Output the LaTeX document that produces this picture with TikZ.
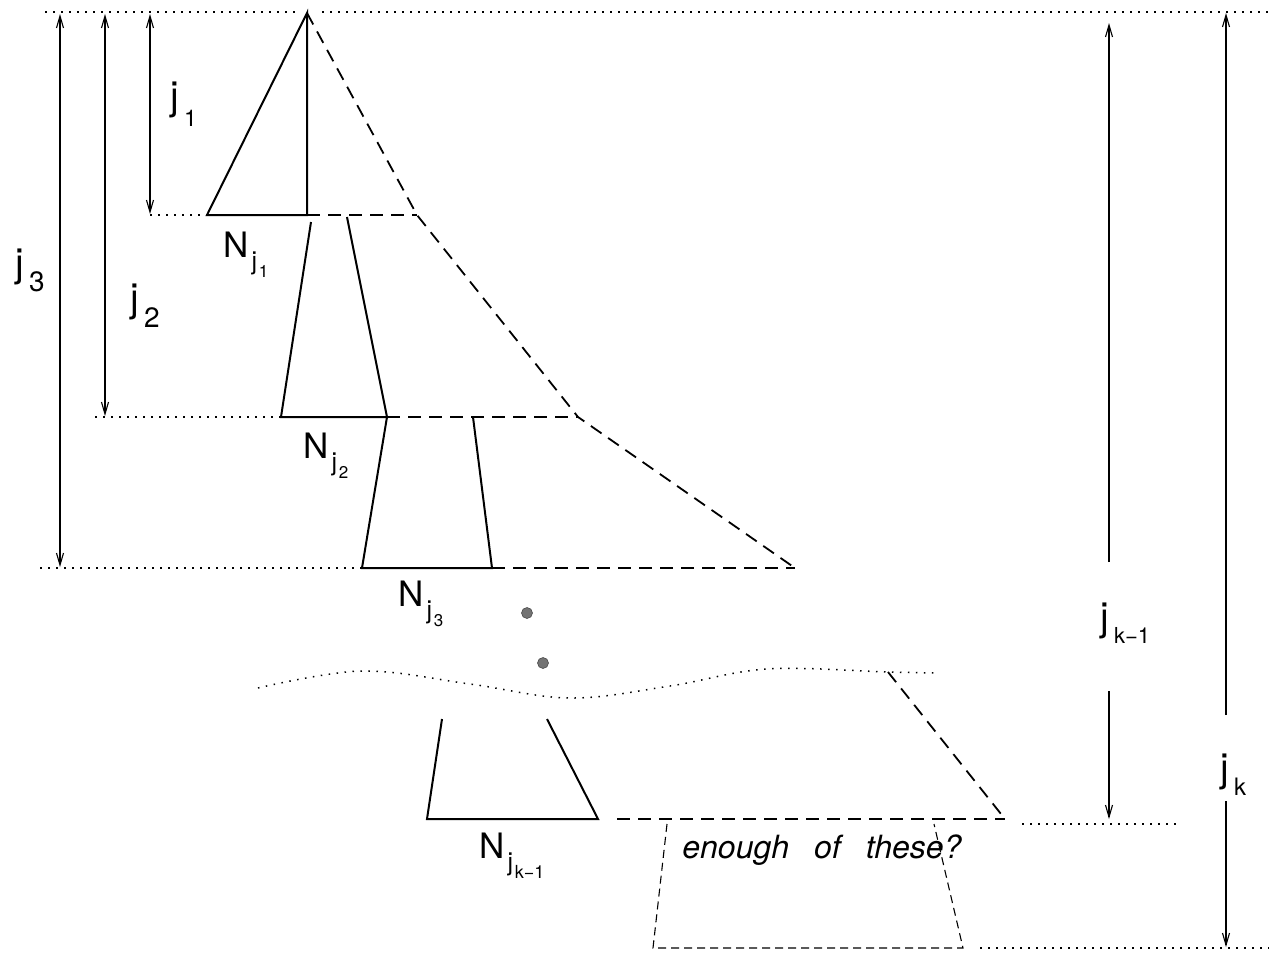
\documentclass[tikz,border=0pt]{standalone}
\usepackage{fontspec}
\setmainfont{TeX Gyre Heros}
\usetikzlibrary{arrows.meta}
\newcommand{\jlab}[3]{j\hspace{2.5pt}\raisebox{-#3}{\fontsize{#2}{#2}\selectfont #1}}
\newcommand{\Nlab}[2]{N\hspace{1.5pt}\raisebox{-6pt}{\fontsize{12.5}{12.5}\selectfont j\hspace{0.8pt}\raisebox{-4pt}{\fontsize{#2}{#2}\selectfont #1}}}
\tikzset{
  solidline/.style={line width=1pt, line join=miter},
  dashline/.style={line width=0.9pt, dash pattern=on 6.5pt off 4pt},
  thindash/.style={line width=0.55pt, dash pattern=on 4pt off 2.5pt},
  dotline/.style={line width=0.75pt, dash pattern=on 0.75pt off 3.25pt},
  dimline/.style={line width=0.55pt},
  bothtips/.style={arrows={Straight Barb[length=6pt,width=3.5pt]-Straight Barb[length=6pt,width=3.5pt]}},
  endtip/.style={arrows={-Straight Barb[length=6pt,width=3.5pt]}},
  lab/.style={inner sep=0pt, anchor=base west, font=\fontsize{19.5}{19.5}\selectfont},
  nlab/.style={inner sep=0pt, anchor=base west, font=\fontsize{17.5}{17.5}\selectfont},
  dotfill/.style={fill=black!55, draw=black!70, line width=0.3pt},
}
\begin{document}
\begin{tikzpicture}[x=0.5pt,y=-0.5pt]
\useasboundingbox (0,0) rectangle (1269,965);
% key coordinates
\coordinate (apex) at (307,13);
\coordinate (t1l) at (207,215);
\coordinate (t1r) at (307,215);
\coordinate (d1) at (417,215);
\coordinate (a2l) at (311,222);
\coordinate (a2r) at (347,217);
\coordinate (b2l) at (281,417);
\coordinate (b2r) at (387,417);
\coordinate (d2) at (578,417);
\coordinate (a3r) at (473,417);
\coordinate (b3l) at (362,568);
\coordinate (b3r) at (492,568);
\coordinate (d3) at (795,568);
\coordinate (ak1l) at (442,719);
\coordinate (ak1r) at (547,719);
\coordinate (bk1l) at (427,819);
\coordinate (bk1r) at (598,819);
\coordinate (dk1s) at (617,819);
\coordinate (dk1e) at (1005,819);
\coordinate (wv) at (888,672);
\coordinate (ekl) at (667,824);
\coordinate (ekr) at (934,824);
\coordinate (fkl) at (653,948);
\coordinate (fkr) at (963,948);

% dotted reference lines
\draw[dotline] (45,12) -- (295,12);
\draw[dotline] (322,12) -- (1269,12);
\draw[dotline] (150,215) -- (t1l);
\draw[dotline] (95,417) -- (b2l);
\draw[dotline] (40,568) -- (b3l);
\draw[dotline] (1022,824) -- (1180,824);
\draw[dotline] (980,948) -- (1269,948);

% wavy dotted line
\draw[dotline] plot[smooth, tension=0.6] coordinates {(258,688) (362,671) (470,684) (570,698) (670,686) (767,669) (888,672) (935,673)};

% dimension arrows (left)
\draw[dimline,bothtips] (60,14) -- (60,567);
\draw[dimline,bothtips] (105,14) -- (105,416);
\draw[dimline,bothtips] (150,14) -- (150,214);
\node[lab] (lj1) at (170,109) {\jlab{1}{11.5}{8.5pt}};
\node[lab] (lj3) at (15,276) {\jlab{3}{14}{7.5pt}};
\node[lab] (lj2) at (130,311) {\jlab{2}{14}{8pt}};

% dimension arrows (right)
\coordinate (jk1top) at (1109,23);
\coordinate (jk1up) at (1109,562);
\coordinate (jk1dn) at (1109,691);
\coordinate (jk1bot) at (1109,819);
\draw[dimline,endtip] (jk1up) -- (jk1top);
\draw[dimline,endtip] (jk1dn) -- (jk1bot);
\node[lab] (ljk1) at (1100,630) {\jlab{k−1}{11}{6.5pt}};
\coordinate (jktop) at (1226,13);
\coordinate (jkup) at (1226,715);
\coordinate (jkdn) at (1226,801);
\coordinate (jkbot) at (1226,947);
\draw[dimline,endtip] (jkup) -- (jktop);
\draw[dimline,endtip] (jkdn) -- (jkbot);
\node[lab] (ljk) at (1220,781) {\jlab{k}{12}{7pt}};

% first triangle
\draw[solidline] (apex) -- (t1l) -- (t1r) -- cycle;
% trapezoid 2
\draw[solidline] (a2l) -- (b2l) -- (b2r) -- (a2r);
% trapezoid 3
\draw[solidline] (b2r) -- (b3l) -- (b3r) -- (a3r);
% trapezoid k-1
\draw[solidline] (ak1l) -- (bk1l) -- (bk1r) -- (ak1r);

% dashed outline
\draw[dashline] (apex) -- (d1) -- (d2) -- (d3);
\draw[dashline] (t1r) -- (d1);
\draw[dashline] (b2r) -- (d2);
\draw[dashline] (b3r) -- (d3);
\draw[dashline] (wv) -- (dk1e);
\draw[dashline] (dk1s) -- (dk1e);

% last (hypothetical) trapezoid
\draw[thindash] (ekl) -- (fkl) -- (fkr) -- (ekr);

% dots
\filldraw[dotfill] (527,613) circle (5.5);
\filldraw[dotfill] (543,663) circle (5.5);

% labels
\node[nlab] (n1) at (223,257) {\Nlab{1}{8.5}};
\node[nlab] (n2) at (303,458) {\Nlab{2}{8.5}};
\node[nlab] (n3) at (398,606) {\Nlab{3}{8.5}};
\node[nlab] (nk) at (479,858) {\Nlab{k−1}{9}};
\node[inner sep=0pt, anchor=base west, font=\fontsize{16}{16}\selectfont\itshape] (q) at (682,858) {enough\hspace{12.5pt}of\hspace{12.5pt}these?};
\end{tikzpicture}
\end{document}
